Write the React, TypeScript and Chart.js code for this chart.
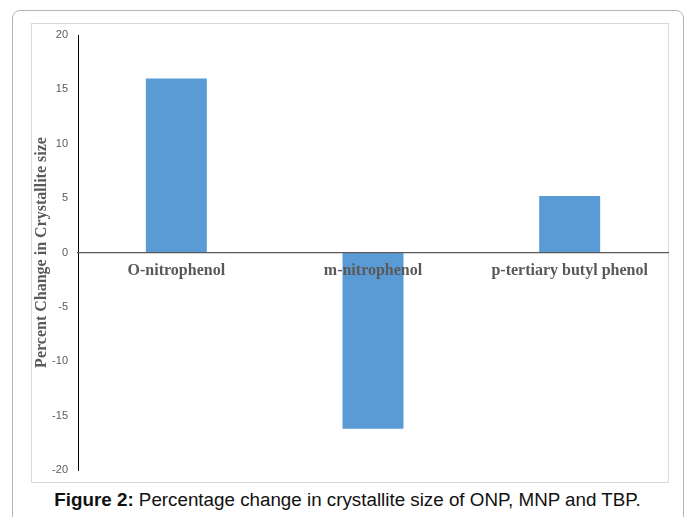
import React, { useEffect, useRef } from "react";
import { Chart, registerables } from "chart.js";

Chart.register(...registerables);

const categories = ["O-nitrophenol", "m-nitrophenol", "p-tertiary butyl phenol"];
const percentChange = [16.0, -16.2, 5.2];
const yMin = -20;
const yMax = 20;
const yStep = 5;
const yTitle = "Percent Change in Crystallite size";

export default function App() {
  const canvasRef = useRef<HTMLCanvasElement | null>(null);

  useEffect(() => {
    if (!canvasRef.current) return;
    const chart = new Chart(canvasRef.current, {
      type: "bar",
      data: {
        labels: categories,
        datasets: [
          {
            data: percentChange,
            backgroundColor: "#5b9bd5",
            borderWidth: 0,
            barPercentage: 0.31,
            categoryPercentage: 1,
          },
        ],
      },
      options: {
        animation: false,
        responsive: false,
        maintainAspectRatio: false,
        layout: { padding: { left: 0, right: 1, top: 12, bottom: 13 } },
        plugins: { legend: { display: false }, tooltip: { enabled: false } },
        scales: {
          x: {
            position: { y: 0 } as any,
            grid: { display: false, drawTicks: false },
            border: { display: true, color: "#595959", width: 1.2, z: 1 },
            ticks: {
              z: 1,
              padding: 9,
              color: "#595959",
              font: { family: "'Liberation Serif', 'Times New Roman', serif", size: 16, weight: "bold" },
            },
          },
          y: {
            min: yMin,
            max: yMax,
            afterFit: (scale: any) => {
              scale.width = 47;
              scale.paddingTop = 0;
              scale.paddingBottom = 0;
            },
            grid: { display: false, drawTicks: false },
            border: { display: true, color: "#000000", width: 1 },
            ticks: {
              stepSize: yStep,
              padding: 10,
              color: "#595959",
              font: { family: "'Liberation Sans', Arial, sans-serif", size: 11 },
            },
            title: {
              display: true,
              text: yTitle,
              color: "#595959",
              padding: { top: 1.5, bottom: 0 },
              font: { family: "'Liberation Serif', 'Times New Roman', serif", size: 16, weight: "bold" },
            },
          },
        },
      },
    });
    return () => chart.destroy();
  }, []);

  return (
    <div
      style={{
        position: "fixed",
        left: 0,
        top: 0,
        width: 685,
        height: 517,
        background: "#ffffff",
        overflow: "hidden",
      }}
    >
      <div
        style={{
          position: "absolute",
          left: 12,
          top: 10,
          width: 672,
          height: 600,
          border: "1px solid #b5b5b5",
          borderRadius: 8,
          boxSizing: "border-box",
        }}
      />
      <div
        style={{
          position: "absolute",
          left: 31,
          top: 23,
          width: 638,
          height: 460,
          border: "1px solid #d9d9d9",
          boxSizing: "border-box",
        }}
      />
      <canvas
        ref={canvasRef}
        width={638}
        height={460}
        style={{ position: "absolute", left: 31, top: 23, width: 638, height: 460 }}
      />
      <div
        style={{
          position: "absolute",
          left: 5,
          width: 685,
          top: 489,
          textAlign: "center",
          fontFamily: "'Liberation Sans', Arial, sans-serif",
          fontSize: 18.8,
          color: "#111111",
          whiteSpace: "nowrap",
        }}
      >
        <b>Figure 2:</b> Percentage change in crystallite size of ONP, MNP and TBP.
      </div>
    </div>
  );
}
